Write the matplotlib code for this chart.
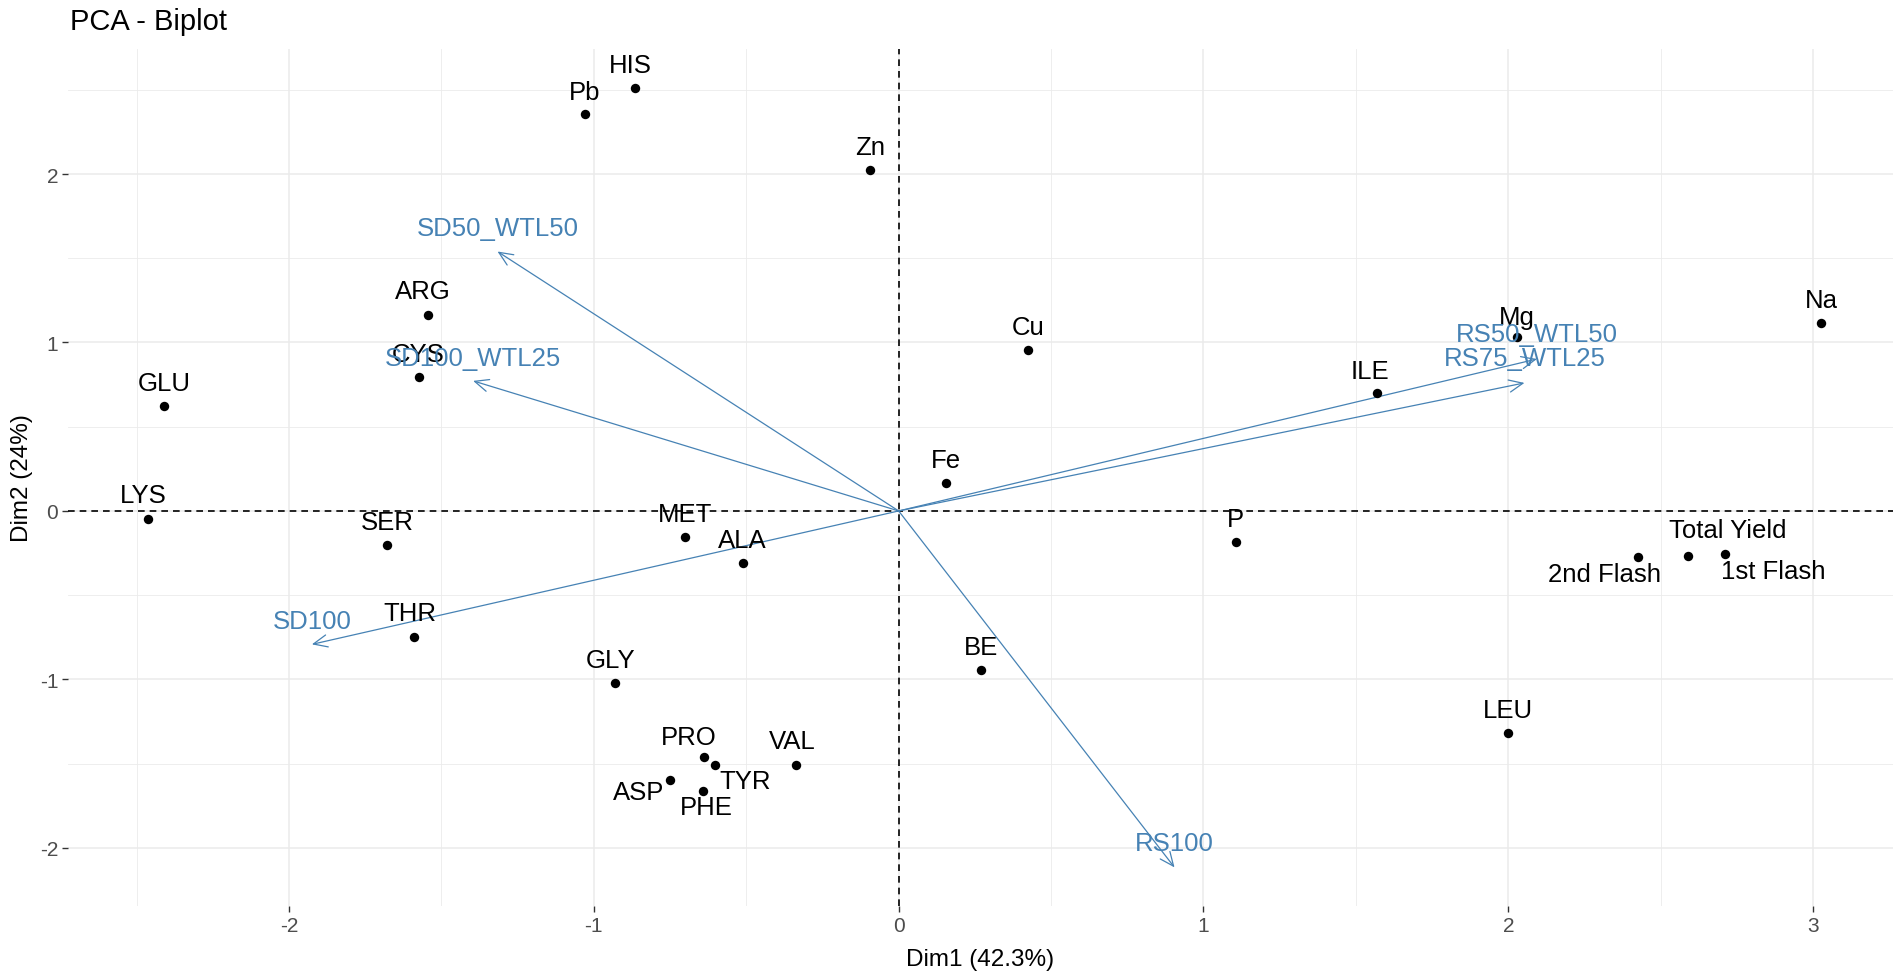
import matplotlib
matplotlib.use("Agg")
import matplotlib.pyplot as plt
from matplotlib.ticker import MultipleLocator

# ---------------- data ----------------
ind_names = ["HIS", "Pb", "Zn", "ARG", "CYS", "GLU", "LYS", "SER", "MET", "ALA",
             "THR", "GLY", "PRO", "TYR", "VAL", "ASP", "PHE", "Cu", "Fe", "P",
             "BE", "ILE", "Mg", "Na", "LEU", "2nd Flash", "Total Yield", "1st Flash"]
ind_x = [-0.864, -1.028, -0.094, -1.543, -1.575, -2.410, -2.464, -1.677, -0.702, -0.512,
         -1.589, -0.930, -0.637, -0.603, -0.337, -0.750, -0.641, 0.424, 0.156, 1.106,
         0.270, 1.568, 2.027, 3.026, 2.000, 2.427, 2.590, 2.710]
ind_y = [2.508, 2.356, 2.024, 1.163, 0.796, 0.623, -0.048, -0.202, -0.152, -0.307,
         -0.750, -1.020, -1.460, -1.510, -1.510, -1.600, -1.660, 0.957, 0.163, -0.186,
         -0.943, 0.699, 1.032, 1.118, -1.317, -0.273, -0.267, -0.253]

var_names = ["SD50_WTL50", "SD100_WTL25", "SD100", "RS100", "RS50_WTL50", "RS75_WTL25"]
var_x = [-1.316, -1.396, -1.925, 0.905, 2.094, 2.053]
var_y = [1.540, 0.772, -0.792, -2.116, 0.902, 0.760]

x_title = "Dim1 (42.3%)"
y_title = "Dim2 (24%)"
plot_title = "PCA - Biplot"

# ---------------- style / layout ----------------
W, H = 1901, 979
FONT = ["Liberation Sans", "DejaVu Sans"]
plt.rcParams["font.family"] = FONT
BLUE = "#4682B4"

# label offsets in pixels (layout only)
default_off = (0, 23)
ind_off = {"Pb": (-1, 22), "HIS": (-5, 23), "ARG": (-5, 24), "LYS": (-4, 24),
           "THR": (-4, 24), "GLY": (-5, 23), "ILE": (-7, 22), "Mg": (0, 20),
           "Total Yield": (40, 26), "1st Flash": (49, -17), "2nd Flash": (-34, -17),
           "PRO": (-16, 20), "TYR": (30, -16), "ASP": (-31, -12), "PHE": (3, -16),
           "VAL": (-4, 24)}
var_off = {"RS100": (0, 24), "RS50_WTL50": (0, 25), "RS75_WTL25": (0, 25)}

fig = plt.figure(figsize=(W / 100, H / 100), dpi=100)
left, right, top, bottom = 68, 1893, 50, 907
ax = fig.add_axes([left / W, 1 - bottom / H, (right - left) / W, (bottom - top) / H])

ax.set_xlim(-2.725, 3.262)
ax.set_ylim(-2.345, 2.742)

for s in ax.spines.values():
    s.set_visible(False)

ax.xaxis.set_major_locator(MultipleLocator(1))
ax.yaxis.set_major_locator(MultipleLocator(1))
ax.xaxis.set_minor_locator(MultipleLocator(0.5))
ax.yaxis.set_minor_locator(MultipleLocator(0.5))
ax.grid(which="major", color="#EBEBEB", linewidth=1.1, zorder=0)
ax.grid(which="minor", color="#EBEBEB", linewidth=0.6, zorder=0)
ax.set_axisbelow(True)
ax.tick_params(which="major", length=4, width=1.0, color="#333333",
               labelsize=15, labelcolor="#4D4D4D", pad=3)
ax.tick_params(which="minor", length=0)
ax.xaxis.set_major_formatter(plt.FuncFormatter(lambda v, p: f"{int(round(v))}"))
ax.yaxis.set_major_formatter(plt.FuncFormatter(lambda v, p: f"{int(round(v))}"))

# reference lines
ax.axhline(0, color="black", linestyle=(0, (4, 3)), linewidth=1.2, zorder=1)
ax.axvline(0, color="black", linestyle=(0, (4, 3)), linewidth=1.2, zorder=1)

# individuals
ax.scatter(ind_x, ind_y, s=46, color="black", zorder=3, linewidths=0)
for n, x, y in zip(ind_names, ind_x, ind_y):
    off = ind_off.get(n, default_off)
    ax.annotate(n, (x, y), xytext=off, textcoords="offset pixels",
                ha="center", va="center", fontsize=18.5, color="black", zorder=4)

# variables (arrows)
for n, x, y in zip(var_names, var_x, var_y):
    ax.annotate("", xy=(x, y), xytext=(0, 0),
                arrowprops=dict(arrowstyle="->,head_length=0.5,head_width=0.22",
                                color=BLUE, linewidth=0.9, mutation_scale=20,
                                shrinkA=0, shrinkB=0), zorder=2)
    off = var_off.get(n, default_off)
    ax.annotate(n, (x, y), xytext=off, textcoords="offset pixels",
                ha="center", va="center", fontsize=18.5, color=BLUE, zorder=4)

# titles
fig.text(70 / W, 1 - 8 / H, plot_title, ha="left", va="top", fontsize=21, color="black")
fig.text((left + right) / 2 / W, 1 - 960 / H, x_title, ha="center", va="center",
         fontsize=17.5, color="black")
fig.text(22 / W, 1 - (top + bottom) / 2 / H, y_title, ha="center", va="center",
         rotation=90, fontsize=17.5, color="black")

fig.savefig("out.png", dpi=100, facecolor="white")
